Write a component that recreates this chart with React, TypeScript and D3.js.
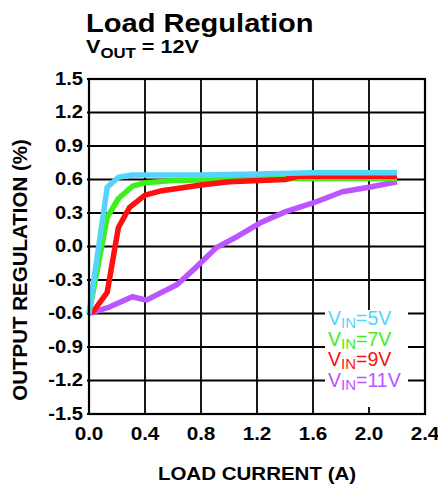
import React from "react";
import * as d3 from "d3";

// ---- data ----
const xTicks = [0.0, 0.4, 0.8, 1.2, 1.6, 2.0, 2.4];
const yTicks = [-1.5, -1.2, -0.9, -0.6, -0.3, 0.0, 0.3, 0.6, 0.9, 1.2, 1.5];

const vin5X = [0, 0.13, 0.21, 0.31, 0.5, 0.8, 1.2, 1.6, 2.0, 2.2];
const vin5Y = [-0.6, 0.53, 0.62, 0.64, 0.64, 0.64, 0.65, 0.66, 0.66, 0.66];

const vin7X = [0, 0.13, 0.21, 0.31, 0.4, 0.6, 1.0, 1.4, 1.8, 2.2];
const vin7Y = [-0.6, 0.26, 0.43, 0.54, 0.57, 0.59, 0.6, 0.61, 0.61, 0.61];

const vin9X = [0.02, 0.13, 0.21, 0.29, 0.4, 0.52, 0.8, 1.0, 1.4, 1.5, 1.8, 2.2];
const vin9Y = [-0.6, -0.41, 0.17, 0.35, 0.46, 0.5, 0.55, 0.58, 0.6, 0.63, 0.63, 0.63];

const vin11X = [0, 0.15, 0.31, 0.41, 0.63, 0.77, 0.91, 1.06, 1.22, 1.4, 1.6, 1.81, 2.0, 2.2];
const vin11Y = [-0.6, -0.54, -0.45, -0.48, -0.34, -0.18, -0.01, 0.09, 0.21, 0.31, 0.39, 0.49, 0.53, 0.58];

const seriesNames = ["5V", "7V", "9V", "11V"];
const seriesColors = ["#55d4fb", "#3cf01a", "#ff1010", "#bb55ff"];

// ---- layout ----
const W = 438;
const H = 487;
const L = 89, R = 425, T = 79, B = 414;
const SX = 1.15;
const FONT = "'Liberation Sans', Arial, Helvetica, sans-serif";

const x = d3.scaleLinear().domain([0, 2.4]).range([L, R]);
const y = d3.scaleLinear().domain([-1.5, 1.5]).range([B, T]);

const line = d3
  .line<[number, number]>()
  .x((d) => x(d[0]))
  .y((d) => y(d[1]));

function zip(xs: number[], ys: number[]): [number, number][] {
  return xs.map((v, i) => [v, ys[i]]);
}

const series = [
  { name: seriesNames[0], color: seriesColors[0], pts: zip(vin5X, vin5Y) },
  { name: seriesNames[1], color: seriesColors[1], pts: zip(vin7X, vin7Y) },
  { name: seriesNames[2], color: seriesColors[2], pts: zip(vin9X, vin9Y) },
  { name: seriesNames[3], color: seriesColors[3], pts: zip(vin11X, vin11Y) },
];
const drawOrder = [3, 1, 2, 0];

function SText(props: {
  x: number;
  y: number;
  anchor?: string;
  size: number;
  weight?: string | number;
  fill?: string;
  sx?: number;
  children: React.ReactNode;
}) {
  const { x: px, y: py, anchor = "start", size, weight = "bold", fill = "#000", sx = SX, children } = props;
  return (
    <g transform={`translate(${px},${py}) scale(${sx},1)`}>
      <text
        x={0}
        y={0}
        textAnchor={anchor}
        fontFamily={FONT}
        fontSize={size}
        fontWeight={weight}
        fill={fill}
      >
        {children}
      </text>
    </g>
  );
}

export default function App() {
  return (
    <svg
      width={W}
      height={H}
      viewBox={`0 0 ${W} ${H}`}
      style={{ position: "absolute", left: 0, top: 0, background: "#fff" }}
    >
      <rect x={0} y={0} width={W} height={H} fill="#fff" />

      {/* title */}
      <SText x={86} y={32} size={25.5} sx={1.14}>
        Load Regulation
      </SText>
      <SText x={86} y={53} size={18} sx={1.2}>
        <tspan>V</tspan>
        <tspan dy={5} fontSize={14}>OUT</tspan>
        <tspan dy={-5}> = 12V</tspan>
      </SText>

      {/* grid */}
      <g stroke="#000" strokeWidth={1.8}>
        {xTicks.map((t) => (
          <line key={"gx" + t} x1={x(t)} x2={x(t)} y1={T} y2={B} />
        ))}
        {yTicks.map((t) => (
          <line key={"gy" + t} x1={L - 2} x2={R} y1={y(t)} y2={y(t)} />
        ))}
      </g>

      {/* legend background */}
      <rect x={325} y={310} width={83} height={97} fill="#fff" />

      {/* series */}
      {drawOrder.map((i) => (
        <path
          key={series[i].name}
          d={line(series[i].pts) || ""}
          fill="none"
          stroke={series[i].color}
          strokeWidth={5.5}
          strokeLinejoin="round"
          strokeLinecap="butt"
        />
      ))}

      {/* frame */}
      <rect x={L} y={T} width={R - L} height={B - T} fill="none" stroke="#000" strokeWidth={2.2} />

      {/* y tick labels */}
      {yTicks.map((t) => (
        <SText key={"yl" + t} x={83} y={y(t) + 5.5} size={17.5} anchor="end">
          {t.toFixed(1)}
        </SText>
      ))}

      {/* x tick labels */}
      {xTicks.map((t) => (
        <SText key={"xl" + t} x={x(t)} y={440} size={18} anchor="middle">
          {t.toFixed(1)}
        </SText>
      ))}

      {/* axis titles */}
      <SText x={257} y={480} size={19} anchor="middle" sx={1.08}>
        LOAD CURRENT (A)
      </SText>
      <text
        transform={`translate(27,270) rotate(-90)`}
        textAnchor="middle"
        fontFamily={FONT}
        fontSize={20.5}
        fontWeight="bold"
        fill="#000"
      >
        OUTPUT REGULATION (%)
      </text>

      {/* legend */}
      {series.map((s, i) => (
        <SText key={"lg" + s.name} x={328} y={325 + i * 20.7} size={19.5} weight="normal" fill={s.color} sx={1.0}>
          <tspan>V</tspan>
          <tspan dy={3} fontSize={15}>IN</tspan>
          <tspan dy={-3}>={s.name}</tspan>
        </SText>
      ))}
    </svg>
  );
}
